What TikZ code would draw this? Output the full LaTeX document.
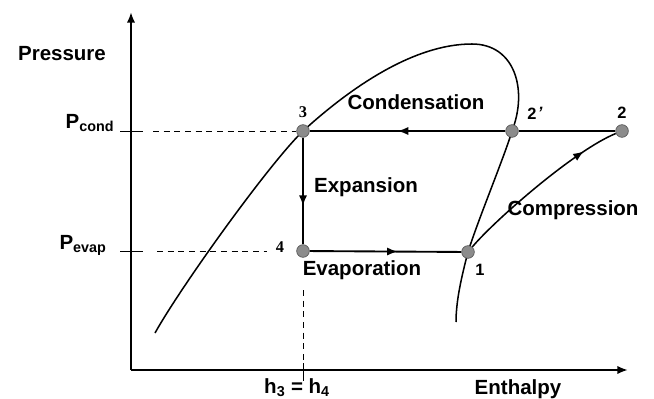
\documentclass[tikz,border=0pt]{standalone}
\usepackage{fontspec}
\setmainfont{Liberation Sans}
\newfontfamily\numfont{Liberation Serif}
\usetikzlibrary{arrows.meta,decorations.markings,backgrounds}

\begin{document}
\begin{tikzpicture}[x=0.03cm,y=-0.03cm,>={Latex[length=9pt,width=7pt]},
  lbl/.style={font=\bfseries\fontsize{17.5}{20}\selectfont,inner sep=0pt},
  num/.style={font=\bfseries\fontsize{14}{16}\selectfont,inner sep=0pt},
  state/.style={circle,draw=black!65,fill=black!45,line width=0.6pt,minimum size=0.38cm,inner sep=0pt},
  cycle/.style={line width=1.6pt},
  dome/.style={line width=1.3pt},
  guide/.style={line width=0.6pt,dash pattern=on 0.18cm off 0.14cm},
  midarrow/.style={postaction={decorate},decoration={markings,mark=at position #1 with {\arrow{>}}}}]
\useasboundingbox (0,0) rectangle (654,399);

% states of the cycle
\node[state] (p1) at (468,252) {};
\node[state] (p2) at (622,131) {};
\node[state] (p2s) at (512,131) {};
\node[state] (p3) at (303,131) {};
\node[state] (p4) at (303,251) {};

\node[num] (n1) at (480,270) {1};
\node[num] (n2) at (622,113) {2};
\node[num] (n2s) at (535,113) {2\kern1pt\raisebox{1pt}{\textit{'}}};
\node[num,font=\numfont\bfseries\fontsize{14}{16}\selectfont] (n3) at (303,112) {3};
\node[num,font=\numfont\bfseries\fontsize{14}{16}\selectfont] (n4) at (280,247) {4};

% axes
\coordinate (origin) at (131,370);
\coordinate (ytip) at (131,12);
\coordinate (xtip) at (628,370);

\node[lbl] (pres) at (62,54) {Pressure};
\node[lbl] (enth) at (518,389) {Enthalpy};
\node[lbl] (pcond) at (90,123) {P\textsubscript{cond}};
\node[lbl] (pevap) at (83,245) {P\textsubscript{evap}};
\node[lbl] (hh) at (297,388) {h\textsubscript{3} = h\textsubscript{4}};

\node[lbl] (cond) at (416,102) {Condensation};
\node[lbl] (expa) at (366,187) {Expansion};
\node[lbl] (evap) at (362,270) {Evaporation};
\node[lbl] (comp) at (573,210) {Compression};

\coordinate (tc1) at (120,131);
\coordinate (tc2) at (143,131);
\coordinate (gc) at (153,131);
\coordinate (te1) at (120,251);
\coordinate (te2) at (143,251);
\coordinate (ge1) at (157,251);
\coordinate (ge2) at (267,251);
\coordinate (gh1) at (303,290);
\coordinate (gh2) at (303,363);
\coordinate (gh3) at (303,381);

\begin{scope}[on background layer]
\draw[line width=1.7pt,->] (origin) -- (ytip);
\draw[line width=1.7pt,->] (origin) -- (xtip);

\draw[line width=0.8pt] (tc1) -- (tc2);
\draw[line width=0.8pt] (te1) -- (te2);
\draw[guide] (gc) -- (p3);
\draw[guide] (ge1) -- (ge2);
\draw[guide] (gh1) -- (gh2);
\draw[line width=0.8pt] (gh2) -- (gh3);

% saturation dome
\draw[dome] (155,333) .. controls (180,288) and (268,165) .. (p3.center)
  .. controls (348,90) and (412,44) .. (472,44)
  .. controls (515,44) and (528,90) .. (p2s.center)
  .. controls (505,155) and (478,220) .. (p1.center)
  .. controls (462,275) and (456,300) .. (456,322);

% cycle
\draw[cycle] (p2) -- (p2s);
\draw[cycle,midarrow=0.55] (p2s) -- (p3);
\draw[cycle,midarrow=0.64] (p3) -- (p4);
\draw[cycle,midarrow=0.58] (p4) -- (p1);
\draw[dome,midarrow=0.8] (p1) .. controls (495,220) and (575,150) .. (p2);
\end{scope}
\end{tikzpicture}
\end{document}
